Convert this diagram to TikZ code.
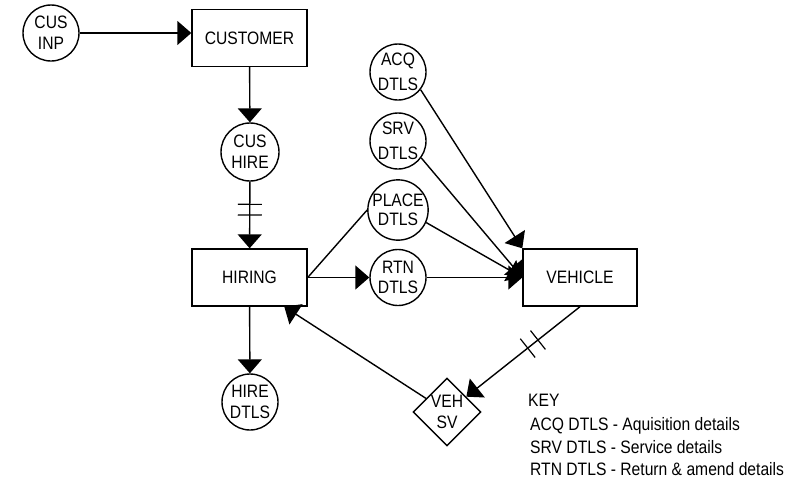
\documentclass[tikz,border=0pt]{standalone}
\usepackage{fontspec}
\setmainfont{Liberation Sans}[FakeStretch=0.87]
\usetikzlibrary{arrows.meta,shapes.geometric,decorations.markings}
\tikzset{
  every node/.style={font=\fontsize{18}{21}\selectfont},
  proc/.style={circle, draw, line width=1.4pt, minimum size=56pt, inner sep=0pt, align=center},
  ent/.style={rectangle, draw, line width=1.4pt, minimum width=115pt, minimum height=57pt, inner sep=0pt},
  dia/.style={diamond, draw, line width=1.4pt, minimum width=68pt, minimum height=68pt, inner sep=0pt, align=center},
  conn/.style={line width=1.4pt},
  arr/.style={conn, -{Triangle[length=14pt 0 0,width=24pt 0 0]}},
  dbltick/.style 2 args={postaction={decorate, decoration={markings,
     mark=at position #1 with {\draw[-, line width=1.2pt] (0,-12pt) -- (0,12pt);},
     mark=at position #2 with {\draw[-, line width=1.2pt] (0,-12pt) -- (0,12pt);}}}},
  keytext/.style={anchor=base west, inner sep=0pt}
}
\begin{document}
\begin{tikzpicture}[x=1pt, y=-1pt]
\useasboundingbox (0,0) rectangle (801,480);
% nodes
\node[proc] (cusinp) at (51,33) {CUS\\INP};
\node[ent] (customer) at (249.5,38) {CUSTOMER};
\node[proc, minimum size=58pt] (cushire) at (250,152) {CUS\\HIRE};
\node[ent] (hiring) at (249.5,277.5) {HIRING};
\node[proc] (hiredtls) at (250,402) {HIRE\\DTLS};
\node[proc] (acq) at (398,72) {ACQ\\[4pt]DTLS};
\node[proc] (srv) at (398,141) {SRV\\[4pt]DTLS};
\node[proc] (place) at (398,210) {PLACE\\[-2pt]DTLS};
\node[proc] (rtn) at (398,277.5) {RTN\\[-1pt]DTLS};
\node[ent, minimum width=114pt] (vehicle) at (580,277.5) {VEHICLE};
\node[dia] (vehsv) at (447,412) {VEH\\SV};
% connectors
\draw[arr] (cusinp) -- (cusinp -| customer.west);
\draw[arr] (customer) -- (cushire);
\draw[arr, dbltick={0.34}{0.5}] (cushire) -- (hiring);
\draw[arr] (hiring) -- (hiredtls);
\draw[arr] (hiring.east) -- (rtn);
\draw[conn] (hiring.east) -- (place.west);
\draw[arr] (acq.-38) -- (vehicle.north west);
\draw[arr] (srv.-36) -- (vehicle.west);
\draw[arr] (place.-24) -- (vehicle.west);
\draw[arr] (rtn) -- (vehicle.west);
\draw[arr, dbltick={0.37}{0.46}] (vehicle.south) -- (vehsv);
\draw[arr] (vehsv) -- (hiring.-40);
% key
\node[keytext] (key0) at (528,406) {KEY};
\node[keytext] (key1) at (530,430) {ACQ DTLS - Aquisition details};
\node[keytext] (key2) at (530,453) {SRV DTLS - Service details};
\node[keytext] (key3) at (530,475) {RTN DTLS - Return \& amend details};
\end{tikzpicture}
\end{document}
